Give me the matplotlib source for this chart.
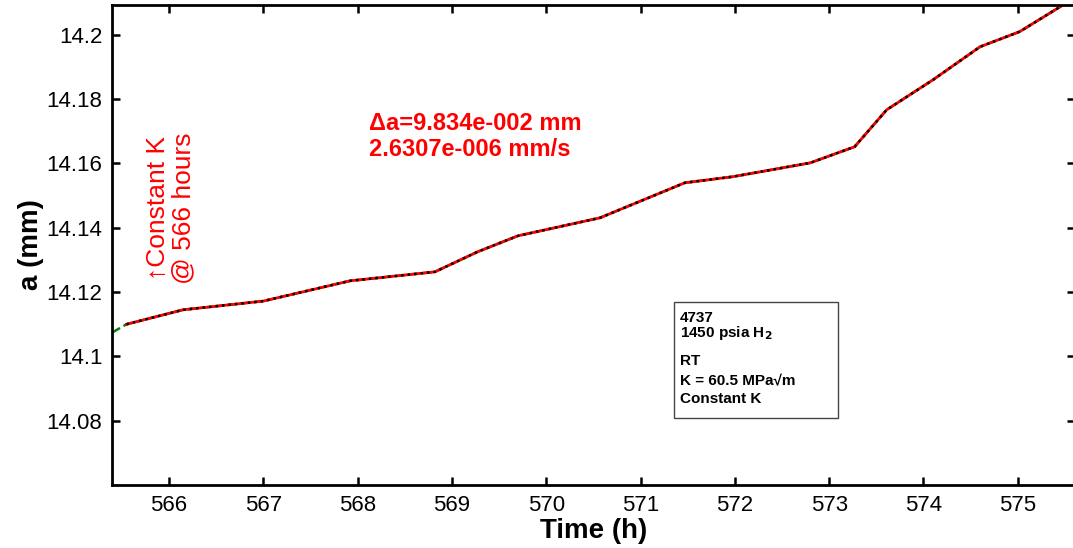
import numpy as np
import matplotlib.pyplot as plt
from matplotlib.patches import Rectangle
from matplotlib.ticker import FormatStrFormatter

plt.rcParams['font.family'] = ['Liberation Sans', 'DejaVu Sans']

# crack length vs time
t = np.array([565.396, 565.55, 566.15, 567.0, 567.92, 568.82, 569.27, 569.70,
              570.57, 571.47, 571.98, 572.80, 573.27, 573.61, 574.10, 574.60,
              575.02, 575.48])
a = np.array([14.1074, 14.1100, 14.1145, 14.1172, 14.1235, 14.1263, 14.1325,
              14.1375, 14.1431, 14.1540, 14.1559, 14.1602, 14.1652, 14.1767,
              14.1860, 14.1963, 14.2010, 14.2093])
fit_start = 1

xticks = np.arange(566, 576)
yticks = [14.08, 14.10, 14.12, 14.14, 14.16, 14.18, 14.20]

info_lines = ['4737', '1450 psia H$_\\mathbf{2}$', 'RT', 'K = 60.5 MPa\u221am', 'Constant K']
info_baselines = [14.1108, 14.1061, 14.0974, 14.0912, 14.0856]

fig = plt.figure(figsize=(10.73, 5.48), dpi=100)
ax = fig.add_axes([112 / 1073, 63 / 548, 963 / 1073, 480 / 548])

ax.plot(t, a, color='green', lw=1.8, ls='--')
ax.plot(t[fit_start:], a[fit_start:], color='red', lw=2.0)
ax.plot(t[fit_start:], a[fit_start:], color='black', lw=1.8, ls=(0, (1, 1.6)))

ax.set_xlim(565.396, 575.607)
ax.set_ylim(14.06, 14.2093)
ax.set_xticks(xticks)
ax.set_yticks(yticks)
ax.yaxis.set_major_formatter(FormatStrFormatter('%g'))

ax.tick_params(direction='in', length=6, width=1.8, labelsize=16,
               top=True, right=True, pad=7)
for s in ax.spines.values():
    s.set_linewidth(2)

ax.set_xlabel('Time (h)', fontsize=20, fontweight='bold', labelpad=2)
ax.set_ylabel('a (mm)', fontsize=20, fontweight='bold', labelpad=2)

ax.text(568.12, 14.1760, '\u0394a=9.834e-002 mm\n2.6307e-006 mm/s',
        color='red', fontsize=17, fontweight='bold', ha='left', va='top',
        linespacing=1.15)

ax.text(566.02, 14.1462, '\u2191Constant K\n@ 566 hours', color='red',
        fontsize=19, rotation=90, ha='center', va='center',
        multialignment='center', linespacing=1.05)

ax.add_patch(Rectangle((571.35, 14.0809), 573.094 - 571.35, 14.1170 - 14.0809,
                       fill=False, edgecolor='#444444', lw=1.0, zorder=5))
for line, yb in zip(info_lines, info_baselines):
    ax.text(571.419, yb, line, fontsize=11, fontweight='bold',
            ha='left', va='baseline', zorder=6)

fig.savefig('out.png', dpi=100)
